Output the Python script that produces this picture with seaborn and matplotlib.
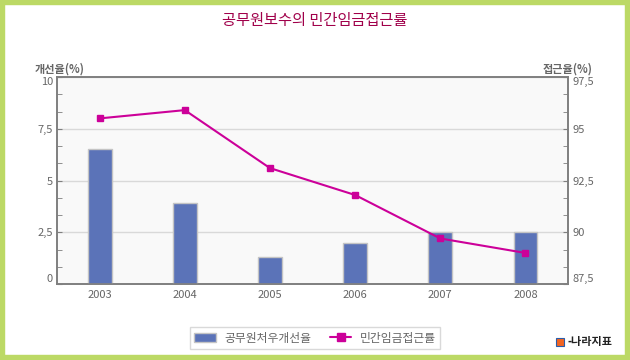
import numpy as np
import pandas as pd
import matplotlib
matplotlib.use("Agg")
import matplotlib.pyplot as plt
import seaborn as sns
from matplotlib.patches import Patch, Rectangle
from matplotlib.lines import Line2D
from matplotlib.ticker import MultipleLocator, FixedLocator

# --- data ---
years = ["2003", "2004", "2005", "2006", "2007", "2008"]
improve_rate = [6.5, 3.9, 1.3, 2.0, 2.5, 2.5]        # 공무원처우개선율 (left axis)
access_rate = [95.5, 95.9, 93.1, 91.8, 89.7, 89.0]    # 민간임금접근률 (right axis)
left_ticks = [0, 2.5, 5, 7.5, 10]
right_ticks = [87.5, 90, 92.5, 95, 97.5]

sns.set_style("white")
plt.rcParams["font.family"] = ["Noto Sans CJK KR", "DejaVu Sans"]

bar_color = "#5b73b8"
line_color = "#cc0099"
text_gray = "#666666"
spine_gray = "#7f7f7f"

df = pd.DataFrame({"year": years, "improve": improve_rate, "access": access_rate})

fig = plt.figure(figsize=(6.3, 3.6), dpi=100)
ax = fig.add_axes([0.0905, 0.2111, 0.8111, 0.575])
ax.set_facecolor("#f9f9f9")

sns.barplot(data=df, x="year", y="improve", ax=ax, color=bar_color,
            width=0.28, edgecolor="#c4c4c4", linewidth=1, saturation=1, zorder=3)
ax.set_xlim(-0.5, 5.5)
ax.set_ylim(0, 10)
ax.yaxis.set_major_locator(FixedLocator(left_ticks))
ax.yaxis.set_minor_locator(MultipleLocator(2.5 / 3))
ax.set_yticklabels([f"{t:g}".replace(".", ",") for t in left_ticks])
ax.grid(axis="y", color="#d9d9d9", linewidth=1, zorder=0)
ax.set_axisbelow(True)
ax.set_xlabel("")
ax.set_ylabel("")

ax2 = ax.twinx()
ax2.plot(np.arange(len(years)), df["access"], color=line_color, linewidth=1.5,
         marker="s", markersize=5, zorder=5)
ax2.set_ylim(87.5, 97.5)
ax2.yaxis.set_major_locator(FixedLocator(right_ticks))
ax2.yaxis.set_minor_locator(MultipleLocator(2.5 / 3))
ax2.set_yticklabels([f"{t:g}".replace(".", ",") for t in right_ticks])

for a in (ax, ax2):
    for s in a.spines.values():
        s.set_color(spine_gray)
        s.set_linewidth(1.2)
        s.set_visible(True)
    a.tick_params(axis="y", which="both", direction="in", length=3.5,
                  color=spine_gray, labelcolor=text_gray, labelsize=8, pad=3)
    a.tick_params(axis="x", length=0, labelcolor=text_gray, labelsize=8, pad=4)

# end labels sit inside the axis span, as in the reference
for a in (ax, ax2):
    labels = a.get_yticklabels()
    labels[0].set_va("bottom")
    labels[-1].set_va("top")

fig.text(0.5, 0.942, "공무원보수의 민간임금접근률", ha="center", va="center",
         fontsize=11, color="#a0004a")
fig.text(0.055, 0.808, "개선율(%)", ha="left", va="center", fontsize=8,
         color=text_gray, fontweight="bold")
fig.text(0.94, 0.808, "접근율(%)", ha="right", va="center", fontsize=8,
         color=text_gray, fontweight="bold")

handles = [Patch(facecolor=bar_color, edgecolor="#c4c4c4"),
           Line2D([0], [0], color=line_color, marker="s", markersize=6, linewidth=1.5)]
leg = fig.legend(handles, ["공무원처우개선율", "민간임금접근률"], loc="center",
                 bbox_to_anchor=(0.5, 0.061), ncol=2, fontsize=8.5, frameon=True,
                 fancybox=False, handlelength=1.8, columnspacing=1.6,
                 borderpad=0.4, handletextpad=0.7)
leg.get_frame().set_edgecolor("#d0d0d0")
leg.get_frame().set_linewidth(1)
for t in leg.get_texts():
    t.set_color(text_gray)

# small logo at bottom right
fig.patches.append(Rectangle((0.883, 0.04), 0.012, 0.021, transform=fig.transFigure,
                             facecolor="#f26522", edgecolor="#2a5caa", linewidth=0.8))
fig.text(0.9, 0.05, "-나라지표", ha="left", va="center", fontsize=8,
         color="#222222", fontweight="bold")

# green frame
fig.patches.append(Rectangle((0, 0), 1, 1, transform=fig.transFigure, fill=False,
                             edgecolor="#bcd965", linewidth=7.5))

fig.savefig("out.png", dpi=100)
